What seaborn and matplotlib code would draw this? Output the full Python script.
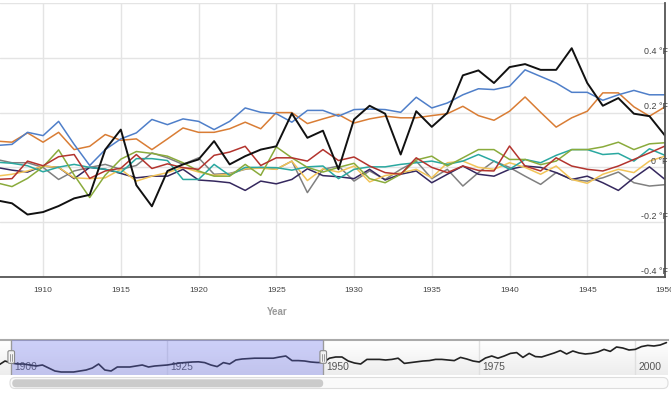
import numpy as np
import pandas as pd
import matplotlib
matplotlib.use("Agg")
import matplotlib.pyplot as plt
from matplotlib.patches import FancyBboxPatch
from matplotlib.colors import LinearSegmentedColormap
from matplotlib.transforms import blended_transform_factory
import seaborn as sns

# -------------------------
# Data (temperature anomaly, °F)
# -------------------------
years = list(range(1907, 1951))

black = [-0.12, -0.131, -0.172, -0.163, -0.141, -0.113, -0.1, 0.065, 0.138, -0.065,
         -0.142, -0.013, 0.011, 0.029, 0.096, 0.011, 0.041, 0.065, 0.077, 0.197,
         0.108, 0.134, -0.007, 0.175, 0.225, 0.196, 0.047, 0.205, 0.148, 0.199,
         0.336, 0.354, 0.308, 0.366, 0.377, 0.356, 0.356, 0.435, 0.308, 0.225,
         0.253, 0.196, 0.187, 0.116]
blue = [0.08, 0.084, 0.128, 0.116, 0.168, 0.084, 0.007, 0.065, 0.104, 0.126,
        0.175, 0.156, 0.177, 0.168, 0.138, 0.168, 0.217, 0.201, 0.196, 0.165,
        0.208, 0.208, 0.187, 0.211, 0.213, 0.211, 0.201, 0.256, 0.217, 0.235,
        0.265, 0.287, 0.284, 0.296, 0.356, 0.332, 0.308, 0.274, 0.274, 0.245,
        0.265, 0.281, 0.265, 0.265]
orange = [0.096, 0.092, 0.126, 0.092, 0.128, 0.065, 0.077, 0.12, 0.099, 0.104,
          0.065, 0.104, 0.144, 0.128, 0.128, 0.141, 0.165, 0.141, 0.2, 0.2,
          0.16, 0.177, 0.193, 0.162, 0.177, 0.187, 0.181, 0.181, 0.189, 0.196,
          0.223, 0.189, 0.172, 0.205, 0.257, 0.201, 0.147, 0.181, 0.205, 0.272,
          0.272, 0.221, 0.187, 0.221]
gray = [0.029, 0.017, 0.017, 0.0, -0.044, -0.013, 0.0, 0.011, -0.007, 0.007,
        0.053, 0.035, 0.011, 0.035, -0.025, -0.022, -0.007, 0.0, -0.007, 0.023,
        -0.092, -0.007, 0.005, -0.05, -0.013, -0.044, -0.007, 0.023, -0.041, -0.007,
        -0.068, -0.019, 0.023, 0.0, -0.032, -0.062, -0.019, -0.044, -0.05, -0.038,
        -0.017, -0.056, -0.068, -0.063]
navy = [0.0, -0.01, -0.017, 0.005, 0.0, -0.041, 0.0, -0.007, -0.022, -0.038,
        -0.032, -0.032, -0.007, -0.046, -0.05, -0.056, -0.084, -0.05, -0.06, -0.044,
        -0.005, -0.03, -0.034, -0.041, -0.007, -0.046, -0.025, -0.013, -0.056, -0.025,
        0.005, -0.025, -0.032, -0.007, 0.005, 0.0, -0.019, -0.044, -0.032, -0.056,
        -0.084, -0.038, 0.002, -0.044]
red = [-0.044, -0.041, 0.023, 0.006, 0.039, 0.047, -0.04, -0.013, -0.003, 0.047,
       -0.004, 0.013, -0.001, -0.007, 0.044, 0.056, 0.077, 0.007, 0.035, 0.035,
       0.023, 0.065, 0.025, 0.038, 0.005, -0.019, -0.025, 0.035, 0.0, -0.019,
       0.005, -0.011, -0.013, 0.078, 0.005, -0.013, 0.035, 0.005, -0.007, -0.013,
       0.005, 0.029, 0.053, 0.078]
olive = [-0.056, -0.07, -0.04, 0.002, 0.064, -0.028, -0.11, -0.028, 0.03, 0.058,
         0.051, 0.041, 0.017, -0.013, -0.032, -0.032, 0.011, -0.029, 0.075, 0.035,
         0.0, -0.017, 0.0, 0.015, -0.041, -0.056, -0.025, 0.027, 0.041, 0.005,
         0.035, 0.065, 0.065, 0.029, 0.029, 0.01, 0.023, 0.065, 0.065, 0.075,
         0.092, 0.065, 0.086, 0.09]
teal = [0.019, 0.015, 0.006, -0.016, 0.001, 0.011, 0.0, -0.007, -0.019, 0.032,
        0.032, 0.025, -0.044, -0.044, 0.011, -0.029, 0.0, 0.0, -0.001, -0.01,
        0.002, 0.005, -0.041, -0.007, 0.002, 0.002, 0.011, 0.017, 0.023, 0.011,
        0.023, 0.047, 0.023, -0.007, 0.029, 0.017, 0.044, 0.065, 0.065, 0.047,
        0.051, 0.023, 0.068, 0.044]
yellow = [-0.032, -0.025, -0.013, 0.005, 0.0, -0.038, -0.041, -0.038, -0.007, -0.05,
          -0.032, -0.019, 0.0, -0.017, -0.029, -0.025, -0.005, -0.003, -0.007, 0.023,
          -0.048, -0.005, -0.017, 0.005, -0.053, -0.03, -0.02, -0.007, -0.038, 0.017,
          0.023, 0.0, -0.007, 0.017, 0.0, -0.025, 0.005, -0.044, -0.058, -0.025,
          -0.007, -0.019, 0.023, 0.041]

series = {"gray": gray, "navy": navy, "yellow": yellow, "teal": teal,
          "olive": olive, "red": red, "orange": orange, "blue": blue}
palette = {"gray": "#808080", "navy": "#35285e", "yellow": "#f2c458",
           "teal": "#2aa8a0", "olive": "#8aab3c", "red": "#b3342e",
           "orange": "#d97d35", "blue": "#4f7fc9"}

ytick_values = [-0.4, -0.2, 0, 0.2, 0.4, 0.6]
ytick_labels = ["-0.4 °F", "-0.2 °F", "0 °F", "0.2 °F", "0.4 °F"]
xtick_values = [1910, 1915, 1920, 1925, 1930, 1935, 1940, 1945, 1950]

# navigator (full record)
nav_years = list(range(1898, 2006))
nav_values = [0.0, 0.1, 0.05, 0.025, 0.025, 0.0, -0.025, 0.0, -0.075, -0.15,
              -0.175, -0.175, -0.175, -0.15, -0.125, -0.075, 0.025, -0.125, -0.15, -0.05,
              -0.05, -0.05, -0.025, 0.0, -0.05, -0.025, -0.0125, 0.0, 0.025, 0.05,
              0.0625, 0.075, 0.08, 0.06, 0.0, -0.04, 0.06, 0.025, 0.125, 0.15,
              0.16, 0.17, 0.17, 0.17, 0.17, 0.2, 0.225, 0.11, 0.11, 0.1,
              0.075, 0.0625, 0.06, 0.17, 0.2, 0.2, 0.1, 0.05, 0.025, 0.14,
              0.14, 0.14, 0.125, 0.14, 0.17, 0.04, 0.06, 0.08, 0.1, 0.11,
              0.14, 0.14, 0.125, 0.11, 0.19, 0.15, 0.1, 0.075, 0.175, 0.225,
              0.17, 0.225, 0.29, 0.31, 0.19, 0.29, 0.21, 0.2, 0.25, 0.3,
              0.36, 0.275, 0.35, 0.3, 0.275, 0.29, 0.325, 0.39, 0.34, 0.45,
              0.425, 0.375, 0.39, 0.46, 0.49, 0.475, 0.5, 0.56]
nav_labels = [1900, 1925, 1950, 1975, 2000]
selection = (1900, 1950)

# -------------------------
# Figure
# -------------------------
sns.set_style("white")
plt.rcParams["font.family"] = ["Liberation Sans", "DejaVu Sans"]

W, H = 671, 394
fig = plt.figure(figsize=(W / 100, H / 100), dpi=100)


def px_rect(x0, y0, x1, y1):
    """pixel box (top-left origin) -> figure fraction rect"""
    return [x0 / W, 1 - y1 / H, (x1 - x0) / W, (y1 - y0) / H]


# main chart
ax = fig.add_axes(px_rect(0, 3, 665, 277))
df = pd.DataFrame({
    "year": years * len(series),
    "value": sum(series.values(), []),
    "series": sum([[k] * len(years) for k in series], []),
})
sns.lineplot(data=df, x="year", y="value", hue="series", hue_order=list(series),
             palette=palette, linewidth=1.1, legend=False, ax=ax)
sns.lineplot(x=years, y=black, color="#111111", linewidth=1.4, ax=ax)

ax.set_xlim(1907.23, 1950)
ax.set_ylim(-0.4, 0.6)
ax.set_yticks(ytick_values)
ax.set_xticks(xtick_values)
ax.set_xticklabels([str(x) for x in xtick_values])
ax.tick_params(axis="y", left=False, labelleft=False)
ax.tick_params(axis="x", direction="out", length=4.5, width=1, color="#555555",
               labelsize=6, labelcolor="#444444", pad=3)
ax.grid(True, color="#e4e4e4", linewidth=1.0)
ax.set_axisbelow(True)
for side in ["top", "left"]:
    ax.spines[side].set_visible(False)
for side in ["bottom", "right"]:
    ax.spines[side].set_color("#555555")
    ax.spines[side].set_linewidth(1.3)

trans = blended_transform_factory(ax.transAxes, ax.transData)
for v, lab in zip(ytick_values, ytick_labels):
    ax.text(1.004, v + 0.005, lab, transform=trans, ha="right", va="bottom",
            fontsize=6.4, color="#444444")

ax.set_xlabel("Year", fontsize=7, fontweight="bold", color="#9a9a9a")
ax.xaxis.set_label_coords(277 / 665, -0.11)
ax.set_ylabel("")

# navigator
nav = fig.add_axes(px_rect(0, 340, 668, 375))
nav_x0 = 1898.2
nav_x1 = nav_x0 + 668 / 6.24
nav.set_xlim(nav_x0, nav_x1)
nav.set_ylim(-0.25, 0.625)
grad = LinearSegmentedColormap.from_list("g", ["#ffffff", "#ededed"])
nav.imshow(np.linspace(0, 1, 50)[:, None], cmap=grad, aspect="auto",
           extent=[nav_x0, nav_x1, -0.25, 0.625], origin="upper", zorder=0)
for yr in nav_labels:
    nav.axvline(yr, color="#e0e0e0", linewidth=1, zorder=1)
    nav.text(yr + 0.5, -0.05, str(yr), ha="left", va="center",
             fontsize=7.4, color="#555555", zorder=2)
sns.lineplot(x=nav_years, y=nav_values, color="#222222", linewidth=1.2, ax=nav)
nav.axvspan(*selection, color=(0.40, 0.43, 0.93), alpha=0.32, linewidth=0, zorder=3)
for s in selection:
    nav.axvline(s, color="#9a9a9a", linewidth=0.9, zorder=4)
nav.set_xticks([])
nav.set_yticks([])
nav.set_xlabel("")
nav.set_ylabel("")
for side in ["bottom", "left", "right"]:
    nav.spines[side].set_visible(False)
nav.spines["top"].set_color("#aaaaaa")
nav.spines["top"].set_linewidth(1.5)

# overlay for handles and scrollbar (pixel coords, top-left origin)
ov = fig.add_axes([0, 0, 1, 1], zorder=5)
ov.set_xlim(0, W)
ov.set_ylim(H, 0)
ov.axis("off")
sel_px = [nav.transData.transform((s, 0))[0] for s in selection]

ov.add_patch(FancyBboxPatch((10, 377.5), 658, 11,
                            boxstyle="round,pad=0,rounding_size=5",
                            fc="#fafafa", ec="#dddddd", lw=0.8))
ov.add_patch(FancyBboxPatch((sel_px[0] + 1, 379.3), sel_px[1] - sel_px[0] - 1, 8,
                            boxstyle="round,pad=0,rounding_size=4",
                            fc="#cbcbcb", ec="none"))
for xs in sel_px:
    ov.add_patch(FancyBboxPatch((xs - 3.3, 350.7), 6.6, 12.6,
                                boxstyle="round,pad=0,rounding_size=1.5",
                                fc="#f3f3f3", ec="#8a8a8a", lw=0.8))
    for dx in (-1.0, 1.0):
        ov.plot([xs + dx, xs + dx], [353.5, 360.5], color="#8a8a8a", lw=0.6)

fig.savefig("out.png", dpi=100)
plt.close(fig)
